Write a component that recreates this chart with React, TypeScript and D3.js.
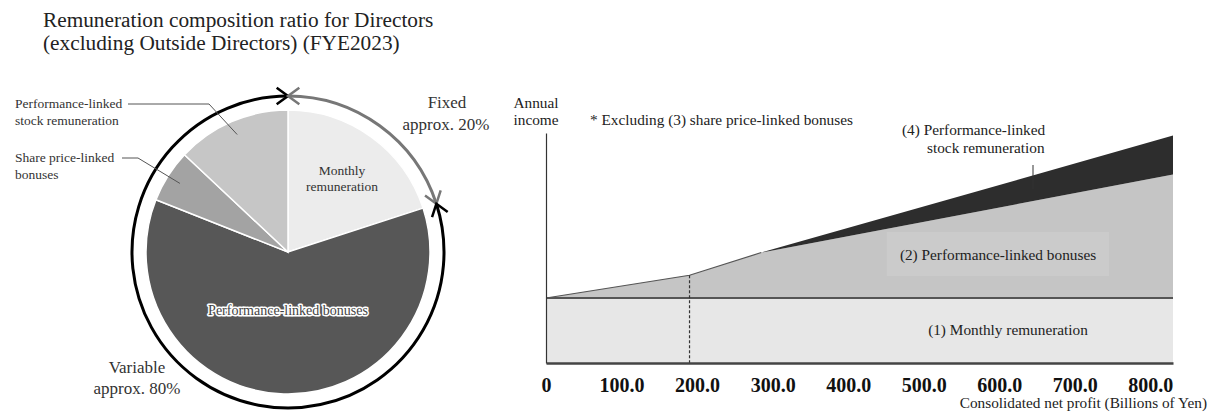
import { useEffect, useRef } from "react";
import * as d3 from "d3";

// pie: remuneration composition (FYE2023), share in %
const sliceNames = ["Monthly remuneration", "Performance-linked bonuses", "Share price-linked bonuses", "Performance-linked stock remuneration"];
const sliceValues = [20, 61, 6, 13];
const sliceColors = ["#ececec", "#575757", "#a3a3a3", "#c6c6c6"];

// income curve vs consolidated net profit (schematic units)
const profit = [0, 190, 285, 830];
const monthly = [20, 20, 20, 20];
const bonuses = [0, 7, 14, 38];
const stock = [0, 0, 0, 12];
const layerKeys = ["monthly", "bonuses", "stock"];
const layerColors = ["#e7e7e7", "#c5c5c5", "#2d2d2d"];
const tickValues = [0, 100, 200, 300, 400, 500, 600, 700, 800];
const tickLabels = ["0", "100.0", "200.0", "300.0", "400.0", "500.0", "600.0", "700.0", "800.0"];

const W = 1208;
const H = 412;
const serif = "'Liberation Serif', 'Times New Roman', serif";

export default function App() {
    const ref = useRef<SVGSVGElement | null>(null);

    useEffect(() => {
        if (!ref.current) return;
        const svg = d3.select(ref.current);
        svg.selectAll("*").remove();
        svg.attr("width", W).attr("height", H).style("font-family", serif);

        svg.append("rect").attr("width", W).attr("height", H).attr("fill", "#fff");

        // ---------- title ----------
        const title = svg.append("text").attr("font-size", 21.3).attr("fill", "#222");
        title.append("tspan").attr("x", 43).attr("y", 27).text("Remuneration composition ratio for Directors");
        title.append("tspan").attr("x", 43).attr("y", 50).text("(excluding Outside Directors) (FYE2023)");

        // ---------- pie ----------
        const cx = 288, cy = 252, radius = 142, ringR = 156;
        const pie = d3.pie<number>().sort(null).value((d) => d);
        const arcs = pie(sliceValues);
        const arc = d3.arc<d3.PieArcDatum<number>>().innerRadius(0).outerRadius(radius);
        const pg = svg.append("g").attr("transform", `translate(${cx},${cy})`);

        pg.selectAll("path.slice")
            .data(arcs)
            .enter()
            .append("path")
            .attr("class", "slice")
            .attr("d", arc)
            .attr("fill", (d, i) => sliceColors[i])
            .attr("stroke", "#fff")
            .style("stroke-width", "1.5px");

        // ring arcs: fixed (grey) and variable (black)
        const split = arcs[0].endAngle;
        const ringPath = (a0: number, a1: number) => {
            const p = d3.path();
            p.arc(0, 0, ringR, a0 - Math.PI / 2, a1 - Math.PI / 2, false);
            return p.toString();
        };
        pg.append("path").attr("d", ringPath(0, split)).attr("fill", "none").attr("stroke", "#777").attr("stroke-width", 3);
        pg.append("path").attr("d", ringPath(split, Math.PI * 2)).attr("fill", "none").attr("stroke", "#000").attr("stroke-width", 3);

        const chevron = (a: number, dirSign: number, color: string) => {
            const tip = [ringR * Math.sin(a), -ringR * Math.cos(a)];
            const dir = [Math.cos(a) * dirSign, Math.sin(a) * dirSign];
            const len = 14, half = (36 * Math.PI) / 180;
            const leg = (s: number) => {
                const c = Math.cos(s * half), sn = Math.sin(s * half);
                const bx = -(dir[0] * c - dir[1] * sn), by = -(dir[0] * sn + dir[1] * c);
                return [tip[0] + bx * len, tip[1] + by * len];
            };
            const l1 = leg(1), l2 = leg(-1);
            pg.append("path")
                .attr("d", `M${l1[0]},${l1[1]}L${tip[0]},${tip[1]}L${l2[0]},${l2[1]}`)
                .attr("fill", "none")
                .attr("stroke", color)
                .attr("stroke-width", 2.5);
        };
        chevron(0, 1, "#000");
        chevron(0, -1, "#777");
        chevron(split, 1, "#777");
        chevron(split, -1, "#000");

        // slice labels
        const mc = d3.arc<d3.PieArcDatum<number>>().innerRadius(92).outerRadius(92).centroid(arcs[0]);
        const mt = pg.append("text").attr("text-anchor", "middle").attr("font-size", 13.5).attr("fill", "#333");
        mt.append("tspan").attr("x", mc[0]).attr("y", mc[1] - 3).text("Monthly");
        mt.append("tspan").attr("x", mc[0]).attr("y", mc[1] + 13).text("remuneration");

        pg.append("text")
            .attr("x", 0)
            .attr("y", 63)
            .attr("text-anchor", "middle")
            .attr("font-size", 14)
            .attr("fill", "#444")
            .attr("stroke", "#fff")
            .attr("stroke-width", 3)
            .attr("stroke-linejoin", "round")
            .style("paint-order", "stroke")
            .text(sliceNames[1]);

        // leader labels on the left
        const leaderArc = d3.arc<d3.PieArcDatum<number>>().innerRadius(128).outerRadius(128);
        const leaders = [
            { idx: 3, lines: ["Performance-linked", "stock remuneration"], y: 108, lx0: 128, lx1: 209 },
            { idx: 2, lines: ["Share price-linked", "bonuses"], y: 162, lx0: 122, lx1: 138 },
        ];
        leaders.forEach((l) => {
            const t = svg.append("text").attr("font-size", 13.5).attr("fill", "#333");
            l.lines.forEach((s, i) => t.append("tspan").attr("x", 15).attr("y", l.y + i * 16.5).text(s));
            const end = leaderArc.centroid(arcs[l.idx]);
            svg.append("path")
                .attr("d", `M${l.lx0},${l.y - 4}L${l.lx1},${l.y - 4}L${cx + end[0]},${cy + end[1]}`)
                .attr("fill", "none")
                .attr("stroke", "#555")
                .attr("stroke-width", 1);
        });

        const fx = svg.append("text").attr("text-anchor", "middle").attr("font-size", 17).attr("fill", "#333");
        fx.append("tspan").attr("x", 447).attr("y", 108).text("Fixed");
        fx.append("tspan").attr("x", 446).attr("y", 130).text("approx. 20%");
        const vr = svg.append("text").attr("text-anchor", "middle").attr("font-size", 17).attr("fill", "#333");
        vr.append("tspan").attr("x", 137).attr("y", 373).text("Variable");
        vr.append("tspan").attr("x", 137).attr("y", 394).text("approx. 80%");

        // ---------- area chart ----------
        const x = d3.scaleLinear().domain([0, 830]).range([546, 1173]);
        const y = d3.scaleLinear().domain([0, 70.8]).range([363, 133]);
        const rows = profit.map((p, i) => ({ profit: p, monthly: monthly[i], bonuses: bonuses[i], stock: stock[i] }));
        const stacked = d3.stack<any>().keys(layerKeys)(rows);
        const area = d3.area<any>()
            .x((d) => x(d.data.profit))
            .y0((d) => y(d[0]))
            .y1((d) => y(d[1]));

        const ag = svg.append("g");
        ag.selectAll("path.layer")
            .data(stacked)
            .enter()
            .append("path")
            .attr("class", "layer")
            .attr("d", area)
            .attr("fill", (d, i) => layerColors[i]);

        // top edge of bonuses before stock kicks in
        const edge = d3.line<any>().x((d) => x(d.data.profit)).y((d) => y(d[1]));
        ag.append("path").attr("d", edge(stacked[1].slice(0, 3))).attr("fill", "none").attr("stroke", "#555").attr("stroke-width", 1.2);
        ag.append("path").attr("d", edge(stacked[0])).attr("fill", "none").attr("stroke", "#555").attr("stroke-width", 2);

        // dashed marker at the kink
        const kink = stacked[1][1];
        ag.append("line")
            .attr("x1", x(kink.data.profit)).attr("x2", x(kink.data.profit))
            .attr("y1", y(kink[1])).attr("y2", y(0))
            .attr("stroke", "#333").attr("stroke-width", 1.2).attr("stroke-dasharray", "3,2");

        // axes
        const xAxis = d3.axisBottom(x).tickValues(tickValues).tickSize(0).tickSizeOuter(0)
            .tickFormat((d, i) => tickLabels[i]);
        const xg = svg.append("g").attr("transform", `translate(0,${y(0)})`).call(xAxis);
        xg.select(".domain").attr("stroke", "#444").attr("stroke-width", 2.5);
        xg.selectAll("text")
            .attr("dy", null)
            .attr("y", 29)
            .attr("font-size", 20)
            .attr("font-weight", "bold")
            .attr("font-family", serif)
            .attr("fill", "#111");

        const yAxis = d3.axisLeft(y).tickValues([]).tickSize(0).tickSizeOuter(0);
        const yg = svg.append("g").attr("transform", `translate(${x(0)},0)`).call(yAxis);
        yg.select(".domain").attr("stroke", "#333").attr("stroke-width", 1.2);

        // annotations
        const t = (sx: number, sy: number, s: string, anchor = "start") =>
            svg.append("text").attr("x", sx).attr("y", sy).attr("font-size", 15.3).attr("fill", "#222").attr("text-anchor", anchor).text(s);
        t(536, 108, "Annual", "middle");
        t(536, 125, "income", "middle");
        t(590, 125, "* Excluding (3) share price-linked bonuses");
        t(902, 135, "(4) Performance-linked");
        t(927, 153, "stock remuneration");
        t(1207, 408, "Consolidated net profit (Billions of Yen)", "end");

        const bonusLabel = t(998, 260, "(2) Performance-linked bonuses", "middle");
        const bb = (bonusLabel.node() as SVGTextElement).getBBox();
        svg.insert("rect", function () { return bonusLabel.node() as any; })
            .attr("x", bb.x - 13).attr("y", bb.y - 14)
            .attr("width", bb.width + 26).attr("height", bb.height + 26)
            .attr("fill", "#cbcbcb");
        t(1008, 335, "(1) Monthly remuneration", "middle");

        // leader for (4)
        const lx = 1033;
        svg.append("line").attr("x1", lx).attr("x2", lx).attr("y1", 165).attr("y2", 189).attr("stroke", "#333").attr("stroke-width", 1);
    }, []);

    return (
        <div style={{ position: "absolute", left: 0, top: 0 }}>
            <svg ref={(el) => { if (el) ref.current = el; }}></svg>
        </div>
    );
}
